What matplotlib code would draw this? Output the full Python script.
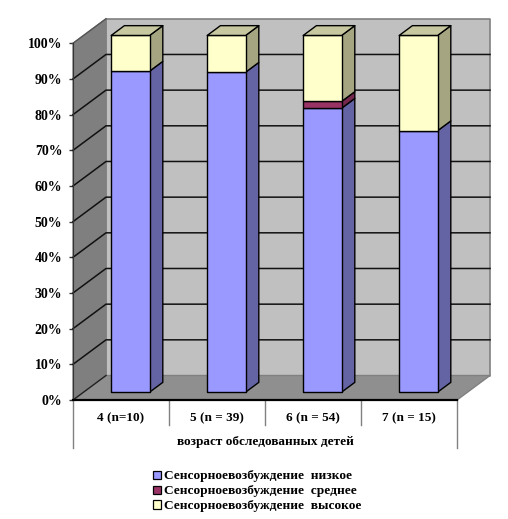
import matplotlib
matplotlib.use('Agg')
import matplotlib.pyplot as plt
from matplotlib.patches import Patch, Polygon

plt.rcParams['font.family'] = ['Liberation Serif', 'DejaVu Serif']

categories = ['4 (n=10)', '5 (n = 39)', '6 (n = 54)', '7 (n = 15)']
low = [90.0, 89.7, 79.6, 73.3]
medium = [0.0, 0.0, 1.9, 0.0]
high = [10.0, 10.3, 18.5, 26.7]
series_names = ['Сенсорноевозбуждение  низкое',
                'Сенсорноевозбуждение  среднее',
                'Сенсорноевозбуждение  высокое']
xlabel = 'возраст обследованных детей'
yticks = [0, 10, 20, 30, 40, 50, 60, 70, 80, 90, 100]

# front, side, top colours of each series
colors = [('#9999FF', '#6464A4', '#8080CC'),
          ('#993366', '#76274E', '#7A2950'),
          ('#FFFFCC', '#A5A582', '#C8C8A0')]

W, H = 508, 519
fig = plt.figure(figsize=(W / 100, H / 100), dpi=100)
ax = fig.add_axes([73 / W, (H - 400) / H, 384 / W, 356.7 / H])
ax.set_xlim(0, 4)
ax.set_ylim(0, 100)
ax.patch.set_visible(False)

# oblique offset of the chart depth, in data units
depth_x = 33 / 96
depth_y = 24.5 / 3.567
bar_width = 0.40
bar_shift = -0.012
bar_d0, bar_d1 = 0.32, 0.72


def pt(x, y, d):
    return (x + d * depth_x, y + d * depth_y)


def poly(points, face, edge='black', lw=1.0, z=1):
    ax.add_patch(Polygon(points, closed=True, facecolor=face, edgecolor=edge,
                         linewidth=lw, zorder=z, clip_on=False, joinstyle='round'))


# walls and floor
poly([pt(0, 0, 1), pt(4, 0, 1), pt(4, 100, 1), pt(0, 100, 1)], '#C0C0C0', '#808080', 1.2)
poly([pt(0, 0, 0), pt(0, 0, 1), pt(0, 100, 1), pt(0, 100, 0)], '#7F7F7F', '#808080', 1.0)
poly([pt(0, 0, 0), pt(4, 0, 0), pt(4, 0, 1), pt(0, 0, 1)], '#8F8F8F', '#808080', 1.0)

for v in yticks[1:-1]:
    ax.plot(*zip(pt(0, v, 0), pt(0, v, 1), pt(4, v, 1)), color='#111111', lw=1.1,
            zorder=2, clip_on=False)
ax.plot(*zip(pt(0, 100, 0), pt(0, 100, 1)), color='#555555', lw=1.0, zorder=2, clip_on=False)
ax.plot(*zip(pt(0, 0, 0), pt(0, 0, 1)), color='#222222', lw=1.0, zorder=2, clip_on=False)

# bars
for i in range(len(categories)):
    x0 = i + 0.5 + bar_shift - bar_width / 2
    x1 = i + 0.5 + bar_shift + bar_width / 2
    base = 0
    for vals, (front, side, top) in zip([low, medium, high], colors):
        v = vals[i]
        if v <= 0:
            continue
        h = base + v
        poly([pt(x1, base, bar_d0), pt(x1, base, bar_d1), pt(x1, h, bar_d1), pt(x1, h, bar_d0)],
             side, z=3 + i)
        poly([pt(x0, base, bar_d0), pt(x1, base, bar_d0), pt(x1, h, bar_d0), pt(x0, h, bar_d0)],
             front, z=3 + i)
        base = h
    poly([pt(x0, base, bar_d0), pt(x1, base, bar_d0), pt(x1, base, bar_d1), pt(x0, base, bar_d1)],
         colors[2][2], z=3 + i)

# axes, ticks and labels
for s in ['top', 'right']:
    ax.spines[s].set_visible(False)
ax.spines['left'].set_color('#333333')
ax.spines['left'].set_zorder(2)
ax.spines['bottom'].set_color('black')
ax.spines['bottom'].set_linewidth(1.6)
ax.spines['bottom'].set_zorder(20)

ax.set_yticks(yticks)
ax.set_yticklabels([f'{v}%' for v in yticks], fontsize=10, fontweight='bold')
ax.tick_params(axis='y', length=3, width=1, pad=4.7, color='#333333')
ax.set_xticks([i + 0.5 for i in range(len(categories))])
ax.set_xticklabels(categories, fontsize=9.5, fontweight='bold')
ax.tick_params(axis='x', length=0, pad=8.5)
ax.set_xlabel(xlabel, fontsize=9.5, fontweight='bold', labelpad=8.5)

# table-like separators under the axis
for x in range(5):
    bottom = -13.5 if x in (0, 4) else -7
    ax.plot([x, x], [0, bottom], color='#808080', lw=1.0, clip_on=False)

handles = [Patch(facecolor=c[0], edgecolor='black', linewidth=0.9) for c in colors]
fig.legend(handles, series_names, loc='upper left', bbox_to_anchor=(153 / W, 1 - 470.5 / H),
           frameon=False, prop={'size': 9.6, 'weight': 'bold'}, handlelength=0.6, handleheight=0.6,
           handletextpad=0.25, labelspacing=0.22, borderpad=0, borderaxespad=0)

fig.savefig('out.png', dpi=100)
